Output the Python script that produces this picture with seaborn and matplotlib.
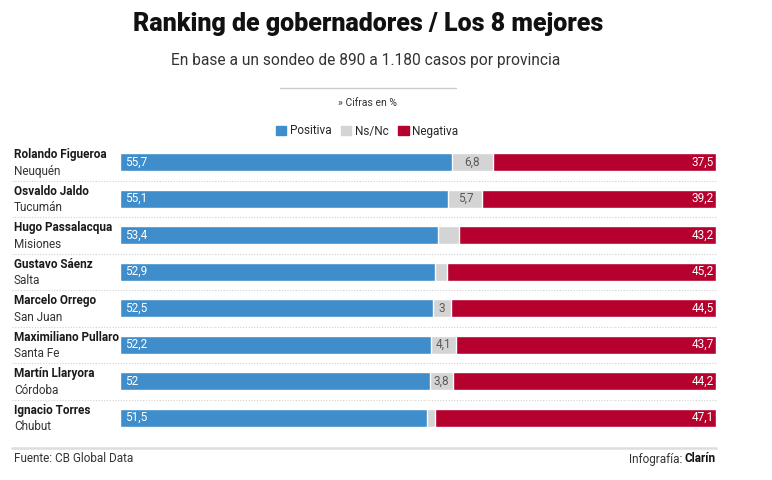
"""Ranking de gobernadores: barras apiladas horizontales (Positiva / Ns-Nc / Negativa)."""
import matplotlib
matplotlib.use("Agg")
import matplotlib.pyplot as plt
import matplotlib.patches as mpatches
import seaborn as sns
import pandas as pd

NOMBRES    = ["Rolando Figueroa", "Osvaldo Jaldo", "Hugo Passalacqua", "Gustavo Sáenz",
              "Marcelo Orrego", "Maximiliano Pullaro", "Martín Llaryora", "Ignacio Torres"]
PROVINCIAS = ["Neuquén", "Tucumán", "Misiones", "Salta",
              "San Juan", "Santa Fe", "Córdoba", "Chubut"]
POSITIVA   = [55.7, 55.1, 53.4, 52.9, 52.5, 52.2, 52.0, 51.5]
NSNC       = [6.8, 5.7, 3.4, 1.9, 3.0, 4.1, 3.8, 1.4]
NEGATIVA   = [37.5, 39.2, 43.2, 45.2, 44.5, 43.7, 44.2, 47.1]
# etiquetas de Ns/Nc que aparecen en la infografía (las demás van sin número)
NSNC_ETIQ  = ["6,8", "5,7", "", "", "3", "4,1", "3,8", ""]

AZUL  = "#3f8ecb"
GRIS  = "#d4d4d4"
ROJO  = "#b6002d"

sns.set_theme(style="white")
FUENTE = ["Liberation Sans Narrow", "Roboto", "DejaVu Sans"]
plt.rcParams["font.family"] = FUENTE

df = pd.DataFrame({"nombre": NOMBRES, "provincia": PROVINCIAS,
                   "positiva": POSITIVA, "nsnc": NSNC, "negativa": NEGATIVA,
                   "etiq_nsnc": NSNC_ETIQ})
df["acum_nsnc"] = df["positiva"] + df["nsnc"]
df["total"] = df["acum_nsnc"] + df["negativa"]

fig = plt.figure(figsize=(7.72, 4.8), dpi=100)
ax = fig.add_axes([120 / 772, 1 - 436 / 480, 596 / 772, 292 / 480])

# barras superpuestas (de mayor a menor) para simular el apilado
sns.barplot(data=df, y="nombre", x="total", color=ROJO, orient="h",
            width=0.5, saturation=1, ax=ax)
sns.barplot(data=df, y="nombre", x="acum_nsnc", color=GRIS, orient="h",
            width=0.5, saturation=1, ax=ax)
sns.barplot(data=df, y="nombre", x="positiva", color=AZUL, orient="h",
            width=0.5, saturation=1, ax=ax)

ax.set_xlim(0, 100)
ax.set_ylim(7.5, -0.5)
ax.set_xlabel("")
ax.set_ylabel("")
ax.set_xticks([])
ax.set_yticks([])
sns.despine(ax=ax, left=True, bottom=True)


def fmt(v):
    return f"{v:g}".replace(".", ",")


for i, r in df.iterrows():
    ax.text(0.8, i, fmt(r.positiva), color="white", fontsize=8.5, va="center", ha="left")
    if r.etiq_nsnc:
        ax.text(r.positiva + r.nsnc / 2, i, r.etiq_nsnc, color="#5a5a5a",
                fontsize=8.5, va="center", ha="center")
    ax.text(99.6, i, fmt(r.negativa), color="white", fontsize=8.5, va="center", ha="right")
    # nombre y provincia a la izquierda
    ax.text(-17.8, i - 0.2, r.nombre, fontsize=8.5, fontweight="bold",
            color="#1a1a1a", va="center", ha="left", clip_on=False)
    ax.text(-17.8, i + 0.25, r.provincia, fontsize=8.5, color="#333333",
            va="center", ha="left", clip_on=False)

# separadores punteados entre filas
for y in [i + 0.5 for i in range(len(NOMBRES) - 1)]:
    ax.hlines(y, -18.1, 100, colors="#d0d0d0", linestyles=(0, (1, 1.5)),
              linewidth=0.8, clip_on=False)

# título, subtítulo y notas
fig.text(368 / 772, 1 - 24 / 480, "Ranking de gobernadores / Los 8 mejores",
         fontsize=18, fontweight="heavy", color="#111111", ha="center", va="center")
fig.text(366 / 772, 1 - 60 / 480, "En base a un sondeo de 890 a 1.180 casos por provincia",
         fontsize=11.2, color="#333333", ha="center", va="center")
fig.add_artist(plt.Line2D([280 / 772, 456 / 772], [1 - 88 / 480] * 2,
                          color="#cccccc", linewidth=1))
fig.text(368 / 772, 1 - 103 / 480, "» Cifras en %", fontsize=7.5, color="#333333",
         ha="center", va="center")

handles = [mpatches.Patch(color=AZUL, label="Positiva"),
           mpatches.Patch(color=GRIS, label="Ns/Nc"),
           mpatches.Patch(color=ROJO, label="Negativa")]
fig.legend(handles=handles, loc="center", bbox_to_anchor=(367 / 772, 1 - 131 / 480),
           ncol=3, frameon=False, fontsize=8.5, handlelength=0.9, handleheight=0.9,
           handletextpad=0.3, columnspacing=0.8)

# pie
fig.add_artist(plt.Line2D([12 / 772, 716 / 772], [1 - 448 / 480] * 2,
                          color="#dddddd", linewidth=1.8))
fig.text(14 / 772, 1 - 459 / 480, "Fuente: CB Global Data", fontsize=8.5,
         color="#333333", ha="left", va="center")
t = fig.text(716 / 772, 1 - 459 / 480, "Clarín", fontsize=8.5, fontweight="bold",
             color="#111111", ha="right", va="center")
renderer = fig.canvas.get_renderer()
bb = t.get_window_extent(renderer=renderer)
fig.text((bb.x0 - 2) / fig.bbox.width, 1 - 459 / 480, "Infografía:", fontsize=8.5,
         color="#333333", ha="right", va="center")

plt.savefig("out.png", dpi=100)
plt.close()
